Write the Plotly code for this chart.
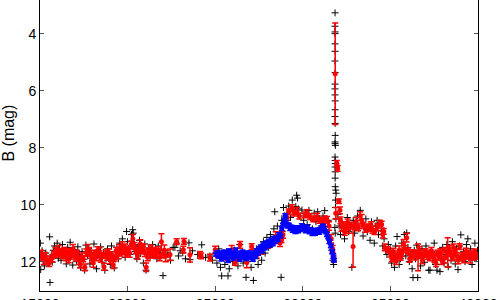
import plotly.graph_objects as go

# ---------------- data ----------------
black_jd = [
 15020,15040,15060,15120,15180,15250,15330,15400,15480,15550,15570,15640,15700,15760,15830,15900,15980,16050,16120,16200,
 16280,16350,16420,16500,16580,16650,16720,16800,16870,16940,17010,17090,17160,17240,17320,17400,17470,17550,17620,17700,
 17780,17850,17920,18000,18080,18160,18230,18310,18390,18460,18540,18620,18700,18770,18850,18930,19010,19080,19160,19240,
 19310,19390,19470,19550,19620,19700,19780,19860,19940,19990,20060,20140,20220,20290,20320,20380,20450,20530,20600,20680,
 20750,20830,20900,20980,21050,21120,21200,21280,21350,21430,21510,21590,21670,21750,21830,21900,22020,
 22150,22300,22450,22600,22700,22800,22900,23000,23150,23300,23500,23560,23700,24000,24230,24450,24700,24850,
 25000,25100,25200,25300,25370,25450,25550,25650,25730,25800,25900,26000,26100,26200,26300,26400,26500,26600,26700,26760,
 26850,26950,27050,27180,27250,27350,27450,27550,27650,27750,27850,27950,28050,28150,28250,28350,28400,28450,28550,28650,
 28760,28800,28900,28950,29050,
 29100,29200,29300,29400,29500,29600,29650,29700,29750,29850,29950,30050,30150,30250,30350,30450,30550,30650,30750,30850,
 30950,31050,31150,31250,31350,31450,31550,31650,31720,31760,
 31840,31835,31845,31840,31838,31842,31836,31844,31840,31838,31842,31846,31840,31836,31844,31850,31840,31845,31860,31840,
 31848,31855,31842,31850,31846,31852,31880,31900,31860,31870,31890,31830,31850,
 32000,32080,32150,32230,32300,32380,32460,32540,32620,32700,32800,32880,32960,33040,33120,33200,33280,33360,33440,33520,
 33600,33680,33760,33840,33920,34000,34080,34160,34240,34320,34400,34480,34560,34640,34720,34800,34880,
 35000,35070,35150,35230,35300,35380,35430,35500,35580,35650,35720,35800,35880,35930,36000,36080,36160,36240,36290,36360,
 36430,36500,36560,36640,36720,36800,36870,36950,37030,37110,37190,37260,37340,37420,37500,37580,37660,37740,37830,37900,
 37980,38060,38140,38220,38300,38380,38460,38540,38620,38700,38780,38860,38940,39020,39100,39180,39260,39340,39420,39500,
 39580,39660,39740,39820,39900,39970,
]
black_mag = [
 11.35,12.28,11.85,11.62,11.98,12.15,11.70,11.90,12.05,11.13,12.73,11.80,12.02,11.60,11.45,11.72,11.35,11.88,11.55,11.95,
 11.40,11.78,11.62,12.08,11.50,11.85,11.32,11.70,12.12,11.58,11.82,12.00,11.48,11.75,12.20,11.65,11.92,12.30,11.42,11.80,
 11.55,12.08,11.70,11.95,11.38,11.85,12.25,11.60,11.75,11.48,12.02,11.68,12.30,11.88,11.55,11.72,12.10,11.45,11.80,12.22,
 11.65,11.50,11.90,11.35,11.70,11.20,11.58,11.85,10.94,11.30,11.55,11.75,11.05,10.88,11.00,11.40,11.65,11.90,11.48,11.25,
 11.72,11.58,12.05,11.38,12.30,11.70,11.52,11.85,11.62,11.40,11.78,11.55,11.90,11.45,11.70,11.60,12.49,
 11.85,11.70,11.95,11.50,11.50,11.35,11.80,11.62,11.69,11.90,11.34,11.93,11.62,11.75,11.41,11.85,11.80,11.95,
 11.72,12.05,11.55,12.20,12.50,11.85,12.10,11.65,12.50,12.25,11.80,12.00,11.60,11.95,12.15,11.40,11.88,12.05,11.70,12.55,
 12.00,11.75,12.20,12.66,11.90,11.55,12.10,11.62,11.95,11.30,11.70,11.15,11.50,11.05,11.40,10.85,10.25,11.20,10.75,11.05,
 12.55,10.55,10.10,10.40,10.65,
 10.30,10.05,10.45,9.84,10.20,10.07,9.67,9.77,10.15,10.40,10.19,10.55,10.30,10.70,10.20,10.45,10.85,10.30,10.60,10.25,
 10.50,10.75,10.40,10.21,10.95,10.55,11.25,11.60,11.95,12.10,
 3.27,3.74,3.94,4.00,4.36,4.62,4.96,5.37,5.77,5.94,6.15,6.36,6.67,6.91,7.15,7.57,7.80,7.86,7.92,8.33,
 8.45,8.56,8.68,8.85,9.07,9.37,9.49,9.60,9.84,10.10,10.50,10.80,11.00,
 10.35,10.75,11.05,10.60,10.90,11.20,10.70,10.45,10.95,10.80,12.20,10.55,11.00,10.70,10.40,10.85,10.20,10.65,11.10,10.75,
 10.50,10.95,10.80,11.25,10.60,10.90,11.35,10.75,10.55,11.05,10.65,10.90,11.45,11.20,11.60,11.75,11.40,
 11.55,12.05,11.85,12.20,11.45,11.12,11.70,12.10,11.90,11.35,11.60,11.05,11.80,10.99,11.50,12.00,11.75,12.25,12.56,11.60,
 11.90,11.42,12.56,11.70,12.15,11.55,11.85,12.02,11.45,11.78,12.30,12.30,11.65,11.95,11.35,12.10,12.30,11.70,12.35,11.88,
 11.50,12.05,11.75,11.40,12.18,11.62,11.95,11.30,11.80,12.08,11.55,12.28,11.45,11.06,11.80,11.65,12.00,11.40,11.20,11.85,
 11.55,12.10,11.70,11.35,11.90,11.60,
]

red_jd = [
 15050,15130,15210,15300,15420,15520,15600,15700,15800,15880,15960,16050,16130,16220,16300,16380,16470,16550,16640,16720,
 16800,16880,16960,17050,17120,17210,17300,17380,17470,17560,17640,17720,17800,17890,17960,18040,18120,18210,18300,18390,
 18470,18560,18650,18740,18830,18920,19010,19100,19180,19260,19350,19430,19520,19600,19690,19780,19860,19940,20030,20120,
 20210,20300,20390,20470,20560,20650,20730,20820,20900,20990,21060,21140,21220,21310,21400,21490,21580,21660,21750,21840,
 21930,22020,22100,22180,
 22420,22800,23180,23220,23560,24130,24200,24700,25000,
 25160,25560,25940,26130,26420,26800,27080,27370,27650,28020,28300,28450,28700,28790,28870,
 29100,29200,29380,29500,29670,29800,30130,30250,30410,30600,30810,30950,31150,31260,31380,31500,31620,31700,31760,
 31850,31880,31940,31990,32060,32120,
 32150,32210,32300,32400,32480,32560,32650,32750,32870,32950,33050,33150,33270,33360,33450,33560,33680,33780,33880,33980,
 34100,34250,34400,34500,34560,34620,34680,34860,
 35000,35080,35170,35250,35330,35420,35500,35580,35660,35750,35840,35930,36010,36100,36180,36270,36350,36440,36580,36650,
 36740,36830,36910,37000,37090,37170,37260,37340,37430,37510,37600,37680,37770,37850,37940,38020,38110,38190,38270,38360,
 38440,38530,38610,38700,38790,38870,38960,39040,39130,39210,39300,39380,39470,39550,39640,39720,39810,39900,
]
red_mag = [
 11.72,11.85,11.95,11.80,11.98,12.05,11.92,11.88,11.75,11.62,11.70,11.58,11.72,11.66,11.78,11.60,11.85,11.70,11.92,11.64,
 11.80,11.55,11.74,11.86,11.70,11.95,12.10,11.82,11.90,12.20,11.68,11.55,11.62,11.78,11.92,12.05,11.70,11.85,11.60,11.66,
 11.90,11.78,12.18,11.72,11.85,11.68,11.95,11.80,12.12,11.88,11.62,11.78,11.55,11.70,11.45,11.62,11.50,11.75,11.58,11.70,
 11.40,11.20,11.45,11.62,11.80,11.55,11.38,11.60,11.48,11.70,12.20,11.85,11.65,11.52,11.75,11.62,11.78,11.70,11.60,11.85,
 11.30,11.72,11.60,11.80,
 11.76,11.30,11.58,11.29,11.76,11.76,11.80,11.86,11.58,
 11.76,11.82,11.58,12.03,11.41,12.03,11.47,11.76,11.64,11.41,11.29,11.12,11.35,11.23,11.06,
 10.45,10.25,10.12,10.30,10.22,10.40,10.36,10.30,10.42,10.50,10.42,10.55,10.60,10.50,10.54,10.75,11.20,11.55,11.90,
 5.41,10.30,8.55,8.73,9.88,10.20,
 10.55,10.78,10.70,10.95,10.78,10.62,10.85,10.72,11.47,10.75,10.60,10.80,10.40,10.55,10.72,10.85,10.78,10.82,10.70,10.88,
 10.95,10.80,10.65,10.70,11.05,10.94,11.50,11.58,
 11.72,11.90,11.65,11.82,11.98,11.75,11.60,11.85,11.70,11.37,11.55,11.16,11.62,11.90,11.75,11.68,11.82,11.70,11.85,11.60,
 11.78,11.95,11.72,11.65,11.80,11.70,11.85,11.62,11.78,11.90,12.05,11.70,11.82,11.65,11.95,11.93,11.60,11.80,11.68,11.55,
 11.72,11.85,11.50,11.65,11.80,11.95,11.47,11.85,11.78,11.92,11.65,11.82,11.72,11.90,11.75,11.85,11.68,11.80,
]
red_err = [
 0.12,0.10,0.15,0.12,0.10,0.12,0.10,0.12,0.10,0.12,0.10,0.15,0.12,0.10,0.12,0.10,0.12,0.15,0.12,0.10,
 0.12,0.15,0.10,0.12,0.10,0.15,0.12,0.12,0.10,0.12,0.12,0.15,0.12,0.10,0.12,0.15,0.10,0.12,0.12,0.15,
 0.12,0.10,0.12,0.12,0.10,0.12,0.12,0.15,0.12,0.10,0.12,0.12,0.15,0.10,0.15,0.12,0.12,0.10,0.12,0.15,
 0.12,0.15,0.12,0.10,0.12,0.12,0.15,0.12,0.10,0.12,0.15,0.12,0.12,0.10,0.12,0.12,0.10,0.15,0.12,0.12,
 0.28,0.15,0.18,0.20,
 0.20,0.10,0.12,0.10,0.25,0.12,0.10,0.12,0.12,
 0.10,0.12,0.15,0.10,0.12,0.18,0.10,0.12,0.10,0.12,0.10,0.17,0.12,0.10,0.12,
 0.10,0.10,0.12,0.10,0.12,0.10,0.10,0.12,0.10,0.10,0.12,0.10,0.12,0.10,0.12,0.15,0.15,0.12,0.10,
 1.78,0.20,0.10,0.10,0.08,0.12,
 0.12,0.15,0.10,0.12,0.10,0.12,0.15,0.10,0.72,0.12,0.15,0.12,0.15,0.20,0.10,0.12,0.10,0.12,0.10,0.12,
 0.10,0.12,0.10,0.12,0.12,0.10,0.12,0.10,
 0.12,0.10,0.12,0.10,0.12,0.12,0.15,0.10,0.12,0.15,0.12,0.15,0.10,0.12,0.12,0.10,0.12,0.10,0.47,0.12,
 0.10,0.12,0.12,0.10,0.12,0.10,0.12,0.12,0.10,0.12,0.12,0.10,0.12,0.10,0.15,0.12,0.10,0.12,0.52,0.12,
 0.10,0.12,0.12,0.10,0.12,0.12,0.10,0.12,0.10,0.12,0.12,0.10,0.12,0.15,0.12,0.10,0.12,0.12,
]

blue_jd = [
 25050,25120,25200,25280,25350,25430,25500,25580,25650,25730,25800,25880,25950,26030,26100,26180,26250,26330,26400,26480,
 26550,26630,26700,26780,26850,26930,27000,27080,27150,27230,27300,27380,27450,27530,27600,27680,27750,27830,27900,27980,
 28050,28130,28200,28280,28350,28430,28500,28580,28650,28730,28800,28870,28950,29000,29050,29120,29200,29280,29350,29430,
 29500,29580,29650,29730,29800,29880,29950,30030,30100,30180,30250,30330,30400,30480,30550,30630,30700,30780,30850,30930,
 31000,31080,31150,31230,31300,31380,31450,31520,31600,31680,31740,31780,
]
blue_mag = [
 11.75,11.68,11.82,11.70,11.90,11.78,11.65,11.85,11.72,11.95,11.62,11.80,11.70,11.88,11.75,11.60,11.82,11.70,11.92,11.78,
 11.65,11.85,11.72,11.90,11.80,11.68,11.85,11.75,11.92,11.70,11.82,11.60,11.72,11.55,11.48,11.62,11.40,11.52,11.35,11.45,
 11.30,11.42,11.25,11.38,11.20,11.30,11.15,11.22,11.05,11.10,10.85,10.70,10.55,10.40,10.62,10.75,10.70,10.85,10.78,10.90,
 10.82,10.95,10.85,10.92,10.80,10.88,10.75,10.85,10.80,10.92,10.78,10.85,10.95,10.88,11.00,10.92,11.02,10.95,10.88,10.98,
 10.90,10.80,10.75,10.85,10.95,11.05,11.15,11.30,11.45,11.65,11.80,11.95,
]
blue_err = [
 0.06,0.07,0.05,0.06,0.08,0.06,0.05,0.07,0.06,0.08,0.06,0.05,0.07,0.06,0.06,0.08,0.05,0.06,0.07,0.06,
 0.05,0.06,0.08,0.06,0.07,0.05,0.06,0.06,0.07,0.08,0.06,0.05,0.06,0.07,0.06,0.08,0.05,0.06,0.07,0.06,
 0.06,0.05,0.07,0.06,0.08,0.06,0.05,0.07,0.06,0.06,0.07,0.05,0.06,0.08,0.06,0.07,0.05,0.06,0.06,0.07,
 0.08,0.06,0.05,0.07,0.06,0.06,0.08,0.05,0.06,0.07,0.06,0.05,0.07,0.06,0.08,0.06,0.05,0.07,0.06,0.06,
 0.07,0.05,0.06,0.08,0.06,0.07,0.05,0.06,0.06,0.07,0.08,0.06,
]

x_ticks = [15000, 20000, 25000, 30000, 35000, 40000]
y_ticks = [4, 6, 8, 10, 12]
y_title = "B (mag)"

# ---------------- figure ----------------
def pair(*cols):
    n = min(len(c) for c in cols)
    return [list(c[:n]) for c in cols]

bj, bm = pair(black_jd, black_mag)
rj, rm, re = pair(red_jd, red_mag, red_err)
uj, um, ue = pair(blue_jd, blue_mag, blue_err)

fig = go.Figure()
fig.add_trace(go.Scatter(
    x=bj, y=bm, mode="markers",
    marker=dict(symbol="cross-thin", size=5, color="black",
                line=dict(color="black", width=1)),
    hoverinfo="skip", showlegend=False))
fig.add_trace(go.Scatter(
    x=rj, y=rm, mode="markers",
    marker=dict(symbol="circle", size=5, color="#ff0000"),
    error_y=dict(type="data", array=re, visible=True, color="#ff0000",
                 thickness=1.5, width=3),
    hoverinfo="skip", showlegend=False))
fig.add_trace(go.Scatter(
    x=uj, y=um, mode="markers",
    marker=dict(symbol="circle", size=5, color="#0000ff"),
    error_y=dict(type="data", array=ue, visible=True, color="#0000ff",
                 thickness=1.5, width=3),
    hoverinfo="skip", showlegend=False))

font = dict(family="Liberation Sans, Arial, sans-serif", size=14, color="black")
fig.update_layout(
    width=500, height=300,
    margin=dict(l=40, r=22, t=0, b=9, autoexpand=False),
    paper_bgcolor="white", plot_bgcolor="white",
    font=font,
    xaxis=dict(range=[15000, 40000], tickvals=x_ticks,
               ticktext=[str(v) for v in x_ticks],
               showgrid=False, zeroline=False, showline=True,
               linecolor="black", linewidth=1, mirror=False,
               ticks="inside", ticklen=5, tickcolor="#555",
               tickfont=font),
    yaxis=dict(range=[13.03, 2.82], tickvals=y_ticks,
               ticktext=[str(v) for v in y_ticks],
               showgrid=False, zeroline=False, showline=True,
               linecolor="black", linewidth=1, mirror="ticks",
               ticks="inside", ticklen=4, tickcolor="#555",
               tickfont=font),
    annotations=[dict(text=y_title, xref="paper", yref="paper",
                      x=0, y=0.541, xanchor="center", yanchor="middle",
                      xshift=-31, textangle=-90, showarrow=False,
                      font=dict(family="Liberation Sans, Arial, sans-serif",
                                size=16, color="black"))],
)

fig.write_html("out.html")
